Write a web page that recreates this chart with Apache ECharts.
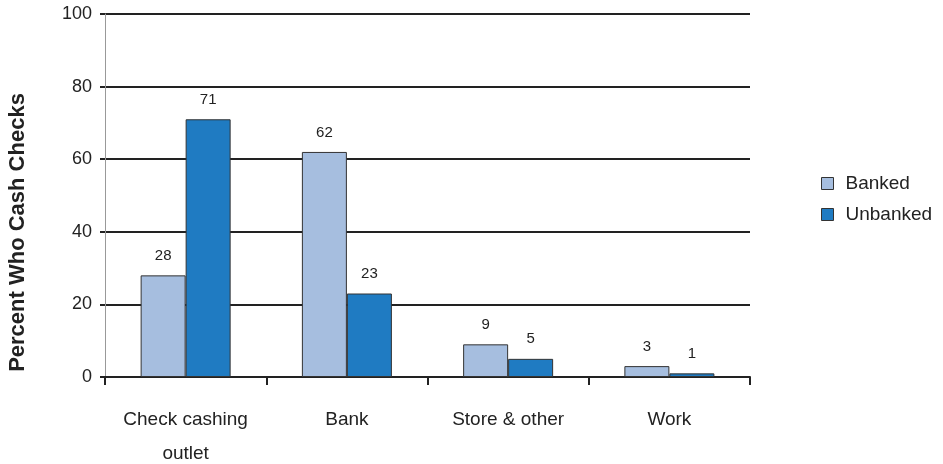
<!DOCTYPE html>
<html>
<head>
<meta charset="utf-8">
<script src="https://cdn.jsdelivr.net/npm/echarts@6/dist/echarts.min.js"></script>
<style>
  html, body { margin: 0; padding: 0; background: #fff; }
  #chart { width: 943px; height: 464px; }
</style>
</head>
<body>
<div id="chart"></div>
<script>
const categories = ["Check cashing\noutlet", "Bank", "Store & other", "Work"];
const banked = [28, 62, 9, 3];
const unbanked = [71, 23, 5, 1];
const yTicks = [0, 20, 40, 60, 80, 100];

const chart = echarts.init(document.getElementById("chart"));
const font = "Liberation Sans, Arial, sans-serif";

chart.setOption({
  animation: false,
  textStyle: { fontFamily: font },
  grid: { left: 105, right: 193, top: 14, bottom: 87, outerBoundsMode: "none" },
  legend: {
    orient: "vertical",
    left: 821,
    top: 174,
    padding: 0,
    icon: "rect",
    itemWidth: 12,
    itemHeight: 12,
    itemGap: 12,
    itemStyle: { borderColor: "#333", borderWidth: 1 },
    textStyle: { fontFamily: font, fontSize: 19, color: "#222", padding: [0, 0, 0, 7] },
    data: ["Banked", "Unbanked"]
  },
  xAxis: {
    type: "category",
    data: categories,
    axisLine: { lineStyle: { color: "#222", width: 2 } },
    axisTick: { show: true, interval: 0, length: 8, lineStyle: { color: "#222", width: 2 } },
    axisLabel: { interval: 0, fontSize: 19, color: "#222", margin: 26, lineHeight: 34, fontFamily: font }
  },
  yAxis: {
    type: "value",
    min: yTicks[0],
    max: yTicks[yTicks.length - 1],
    interval: 20,
    name: "Percent Who Cash Checks",
    nameLocation: "middle",
    nameGap: 76,
    nameTextStyle: { fontSize: 22, fontWeight: "bold", color: "#222", fontFamily: font, padding: [0, 74, 0, 0] },
    axisLine: { show: true, lineStyle: { color: "#999", width: 1 } },
    axisTick: { show: true, length: 5, lineStyle: { color: "#222", width: 2 } },
    axisLabel: { fontSize: 18, color: "#222", margin: 13, fontFamily: font },
    splitLine: { lineStyle: { color: "#222", width: 2 } }
  },
  series: [
    {
      name: "Banked",
      type: "bar",
      data: banked,
      barWidth: 45,
      barGap: "0%",
      itemStyle: { color: "#a6bedf", borderColor: "#333", borderWidth: 1 },
      label: { show: true, position: "top", distance: 12, fontSize: 15, color: "#222", fontFamily: font }
    },
    {
      name: "Unbanked",
      type: "bar",
      data: unbanked,
      barWidth: 45,
      itemStyle: { color: "#1f7bc2", borderColor: "#333", borderWidth: 1 },
      label: { show: true, position: "top", distance: 12, fontSize: 15, color: "#222", fontFamily: font }
    }
  ]
});
</script>
</body>
</html>
